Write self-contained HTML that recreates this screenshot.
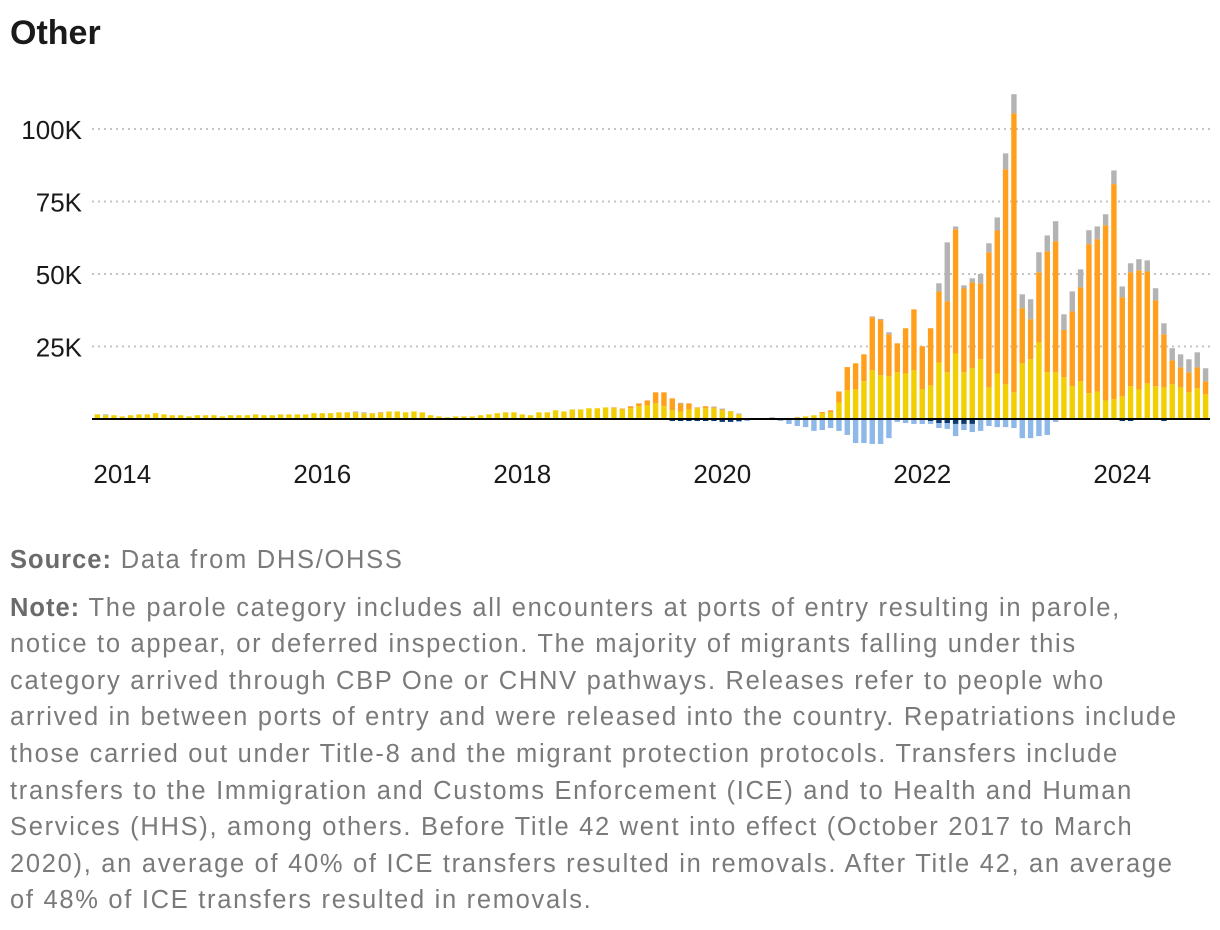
<!DOCTYPE html>
<html><head><meta charset="utf-8"><style>
body{margin:0;width:1220px;height:930px;background:#fff;font-family:"Liberation Sans",sans-serif;overflow:hidden;position:relative}
#title{position:absolute;left:10px;top:14px;font-size:34px;font-weight:bold;color:#1a1a1a}
#notes{position:absolute;left:10px;top:542px;width:1210px;color:#7a7a7a;font-size:25.5px;line-height:36.6px;letter-spacing:1.7px;white-space:nowrap}
#notes p{margin:0 0 11px 0}
#notes b{color:#6b6b6b;letter-spacing:1px}
</style></head><body>
<div id="title">Other</div>
<svg id="chart" width="1220" height="520" style="position:absolute;left:0;top:0"></svg>
<div id="notes">
<p><b>Source:</b> Data from DHS/OHSS</p>
<p><b>Note:</b> The parole category includes all encounters at ports of entry resulting in parole,<br>notice to appear, or deferred inspection. The majority of migrants falling under this<br>category arrived through CBP One or CHNV pathways. Releases refer to people who<br>arrived in between ports of entry and were released into the country. Repatriations include<br>those carried out under Title-8 and the migrant protection protocols. Transfers include<br>transfers to the Immigration and Customs Enforcement (ICE) and to Health and Human<br>Services (HHS), among others. Before Title 42 went into effect (October 2017 to March<br>2020), an average of 40% of ICE transfers resulted in removals. After Title 42, an average<br>of 48% of ICE transfers resulted in removals.</p>
</div>
<script>
// monthly values in thousands, Oct 2013 .. Nov 2024 (134 months)
const parole = [1.6,1.3,1.3,0.9,1.3,1.6,1.6,2.0,1.6,1.3,1.3,0.9,1.3,1.3,1.3,0.9,1.3,1.3,1.3,1.6,1.3,1.3,1.6,1.6,1.6,1.6,2.0,2.0,2.0,2.3,2.3,2.3,2.0,2.0,2.0,2.6,2.6,2.3,2.6,2.3,1.3,0.9,0.6,0.9,
0.9,0.9,1.3,1.6,2.0,2.3,2.3,1.6,1.3,2.3,2.3,3.0,2.6,3.3,3.3,3.7,3.7,4.0,3.7,3.3,3.7,4.4,4.7,5.4,4.4,3.0,2.6,3.3,3.7,3.7,3.7,3.0,2.6,1.6,0,0,0,0,0.3,0.3,0.3,0.9,1.3,2.0,
2.3,5.7,9.9,10.2,13,16.8,15.1,14.7,16.1,15.7,16.8,10.2,11.6,19.5,16.1,22.6,16.1,17.5,20.6,10.9,15.7,12,9.2,19.2,20.6,26.4,16.1,16.1,14.4,11.3,13,8.9,9.5,6.4,6.8,7.8,11.3,10.2,12.3,11.3,10.9,12,10.9,9.2,10.6,8.5];
const releases = [0,0,0,0,0,0,0,0,0,0,0,0,0,0,0,0,0,0,0,0,0,0,0,0,0,0,0,0,0,0,0,0,0,0,0.3,0,0,0,0,0,0,0,0,0,
0,0,0,0,0,0,0,0,0,0,0,0,0,0,0,0,0,0,0.3,0.3,0.7,1.0,1.7,3.8,4.8,4.1,2.7,2.1,0.3,0.7,0.3,0.3,0.1,0,0,0,0,0,0,0,0.3,0,0,0.4,
0.7,3.8,8.0,9.0,9.3,18.3,19,14.5,10,15.6,21,14.9,19.7,24.5,24.5,42.8,28.9,29.6,26.2,46.6,49.3,74.1,96.2,19,13.8,24.2,41.7,45.2,16.3,25.8,32.4,51.4,52.5,60.4,74.2,34.2,39.3,41.1,38.6,29.6,18.3,8.2,6.9,6.9,7.2,4.5];
const other = [0,0.3,0,0,0,0,0,0,0,0,0,0,0,0,0,0,0,0,0,0,0,0,0,0,0,0,0,0,0,0,0,0.3,0.3,0,0,0,0,0,0,0,0,0,0,0,
0,0,0,0,0,0,0,0,0,0,0,0,0,0,0,0,0,0,0,0,0,0,0,0,0,0,0.3,0,0,0,0.3,0.3,0,0.3,0,0,0,0.6,0,0,0,0,0,0,
0,0,0,0,0,0.3,0.4,0.7,0,0,0,0,0,2.8,20.3,1.0,1.1,1.4,3.2,3.1,4.5,5.5,6.6,4.8,6.9,6.9,5.5,6.9,5.4,6.9,6.2,4.8,4.4,3.8,4.7,3.7,3.1,3.8,3.8,4.2,3.8,4.2,4.5,4.5,5.2,4.5];
const repatriations = new Array(134).fill(0);
[[69,.7],[70,.7],[71,.7],[72,.7],[73,.7],[74,.7],[75,1.0],[76,1.0],[77,.7],[100,.7],[101,1.4],[102,1.4],[103,1.7],[104,1.7],[105,1.7],[123,.7],[124,.7],[128,.7]].forEach(d=>repatriations[d[0]]=d[1]);
const transfers = new Array(134).fill(0);
[[77,.3],[78,.7],[82,.7],[83,1.7],[84,2.4],[85,2.8],[86,4.1],[87,3.8],[88,3.1],[89,4.1],[90,5.5],[91,8.3],[92,8.3],[93,8.6],[94,8.6],[95,6.6],[96,1],[97,1.4],[98,1.7],[99,1.7],[100,1.0],[101,1.7],[102,2.0],[103,4.2],[104,2.1],[105,2.8],[106,4.1],[107,2.4],[108,2.8],[109,2.8],[110,3.1],[111,6.6],[112,6.6],[113,5.9],[114,5.5],[115,1.0]].forEach(d=>transfers[d[0]]=d[1]);
const yTicks = [25,50,75,100];
const yTickLabels = ["25K","50K","75K","100K"];
const xYears = [2014,2016,2018,2020,2022,2024];

const svg=document.getElementById('chart');
const NS='http://www.w3.org/2000/svg';
const y0=419, kpx=2.9;
function yS(v){return y0 - v*kpx;}
function xS(i){return 97.3 + i*8.333;}
function xYear(yr){return xS(3 + (yr-2014)*12);}
function mk(tag,attrs){const e=document.createElementNS(NS,tag);for(const k in attrs)e.setAttribute(k,attrs[k]);svg.appendChild(e);return e;}

yTicks.forEach((t,i)=>{
  const g=mk('line',{x1:92,x2:1210,y1:yS(t),y2:yS(t),stroke:'#c4c4c4','stroke-width':2,'stroke-dasharray':'2 4'});
  
  
  const l=mk('text',{x:82,y:yS(t)+10,'text-anchor':'end','font-size':26,fill:'#1a1a1a','font-family':'Liberation Sans, sans-serif'});
  l.textContent=yTickLabels[i];
  
  
});
xYears.forEach(yr=>{
  const l=mk('text',{x:xYear(yr),y:483,'text-anchor':'middle','font-size':26,fill:'#1a1a1a','font-family':'Liberation Sans, sans-serif'});
  l.textContent=yr;
  
  
});
const series=[[parole,'#f2cf00','parole'],[releases,'#ff9f1c','releases'],[other,'#b3b3b3','other']];
const bw=5.4;
for(let i=0;i<134;i++){
  let acc=0;
  series.forEach(s=>{
    const v=s[0][i]; if(v<=0)return;
    const r=mk('rect',{x:xS(i)-bw/2,y:yS(acc+v),width:bw,height:v*kpx,fill:s[1]});
    
    
    acc+=v;
  });
  let neg=0;
  [[repatriations,'#0b3a6e','repatriations'],[transfers,'#8db8e8','transfers']].forEach(s=>{
    const v=s[0][i]; if(v<=0)return;
    const r=mk('rect',{x:xS(i)-bw/2,y:y0+neg*kpx,width:bw,height:v*kpx,fill:s[1]});
    
    
    neg+=v;
  });
}
const base=mk('line',{x1:92,x2:1210,y1:y0,y2:y0,stroke:'#000','stroke-width':2});


</script>
</body></html>
